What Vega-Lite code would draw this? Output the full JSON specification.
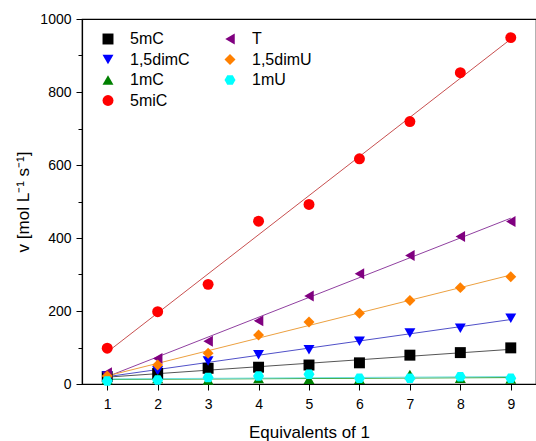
{
  "$schema": "https://vega.github.io/schema/vega-lite/v6.json",
  "width": 454,
  "height": 365,
  "autosize": "none",
  "padding": {"left": 82, "top": 19, "right": 0, "bottom": 57},
  "background": "white",
  "config": {
    "view": {"stroke": "black", "strokeWidth": 1.2},
    "font": "Liberation Sans",
    "axis": {
      "grid": false,
      "domainColor": "black",
      "domainWidth": 1.2,
      "tickColor": "black",
      "tickWidth": 1,
      "labelColor": "black",
      "titleColor": "black",
      "labelFont": "Liberation Sans",
      "titleFont": "Liberation Sans",
      "titleFontWeight": "normal",
      "labelFontSize": 14,
      "titleFontSize": 17
    },
    "legend": {
      "labelFont": "Liberation Sans",
      "labelFontSize": 16,
      "labelColor": "black"
    }
  },
  "data": {
    "values": [
      {"series": "5mC", "eq": 1, "v": 20}, {"series": "5mC", "eq": 2, "v": 29}, {"series": "5mC", "eq": 3, "v": 43},
      {"series": "5mC", "eq": 4, "v": 46}, {"series": "5mC", "eq": 5, "v": 52}, {"series": "5mC", "eq": 6, "v": 58},
      {"series": "5mC", "eq": 7, "v": 79}, {"series": "5mC", "eq": 8, "v": 86}, {"series": "5mC", "eq": 9, "v": 99},
      {"series": "1,5dimC", "eq": 1, "v": 22}, {"series": "1,5dimC", "eq": 2, "v": 36}, {"series": "1,5dimC", "eq": 3, "v": 63},
      {"series": "1,5dimC", "eq": 4, "v": 80}, {"series": "1,5dimC", "eq": 5, "v": 94}, {"series": "1,5dimC", "eq": 6, "v": 117},
      {"series": "1,5dimC", "eq": 7, "v": 140}, {"series": "1,5dimC", "eq": 8, "v": 153}, {"series": "1,5dimC", "eq": 9, "v": 180},
      {"series": "1mC", "eq": 1, "v": 12}, {"series": "1mC", "eq": 2, "v": 15}, {"series": "1mC", "eq": 3, "v": 11},
      {"series": "1mC", "eq": 4, "v": 15}, {"series": "1mC", "eq": 5, "v": 13}, {"series": "1mC", "eq": 6, "v": 13},
      {"series": "1mC", "eq": 7, "v": 26}, {"series": "1mC", "eq": 8, "v": 16}, {"series": "1mC", "eq": 9, "v": 14},
      {"series": "5miC", "eq": 1, "v": 98}, {"series": "5miC", "eq": 2, "v": 198}, {"series": "5miC", "eq": 3, "v": 273},
      {"series": "5miC", "eq": 4, "v": 446}, {"series": "5miC", "eq": 5, "v": 492}, {"series": "5miC", "eq": 6, "v": 617},
      {"series": "5miC", "eq": 7, "v": 719}, {"series": "5miC", "eq": 8, "v": 853}, {"series": "5miC", "eq": 9, "v": 949},
      {"series": "T", "eq": 1, "v": 31}, {"series": "T", "eq": 2, "v": 70}, {"series": "T", "eq": 3, "v": 117},
      {"series": "T", "eq": 4, "v": 173}, {"series": "T", "eq": 5, "v": 241}, {"series": "T", "eq": 6, "v": 302},
      {"series": "T", "eq": 7, "v": 352}, {"series": "T", "eq": 8, "v": 404}, {"series": "T", "eq": 9, "v": 445},
      {"series": "1,5dimU", "eq": 1, "v": 22}, {"series": "1,5dimU", "eq": 2, "v": 52}, {"series": "1,5dimU", "eq": 3, "v": 84},
      {"series": "1,5dimU", "eq": 4, "v": 134}, {"series": "1,5dimU", "eq": 5, "v": 170}, {"series": "1,5dimU", "eq": 6, "v": 194},
      {"series": "1,5dimU", "eq": 7, "v": 229}, {"series": "1,5dimU", "eq": 8, "v": 264}, {"series": "1,5dimU", "eq": 9, "v": 294},
      {"series": "1mU", "eq": 1, "v": 8}, {"series": "1mU", "eq": 2, "v": 11}, {"series": "1mU", "eq": 3, "v": 18},
      {"series": "1mU", "eq": 4, "v": 22}, {"series": "1mU", "eq": 5, "v": 27}, {"series": "1mU", "eq": 6, "v": 16},
      {"series": "1mU", "eq": 7, "v": 16}, {"series": "1mU", "eq": 8, "v": 20}, {"series": "1mU", "eq": 9, "v": 16}
    ]
  },
  "encoding": {
    "x": {"field": "eq", "type": "quantitative", "scale": {"domain": [0.5, 9.5], "nice": false},
          "axis": {"title": "Equivalents of 1", "values": [1,2,3,4,5,6,7,8,9], "tickSize": 6, "labelPadding": 7, "titlePadding": 13}},
    "y": {"field": "v", "type": "quantitative", "scale": {"domain": [0, 1000], "nice": false},
          "axis": {"title": "v [mol L⁻¹ s⁻¹]", "values": [0, 100, 200, 300, 400, 500, 600, 700, 800, 900, 1000],
                   "labelExpr": "datum.value % 200 === 0 ? format(datum.value, 'd') : ''",
                   "tickSize": {"condition": {"test": "datum.value % 200 === 0", "value": 6}, "value": 4},
                   "labelPadding": 5, "titlePadding": 7}}
  },
  "layer": [
    {"transform": [{"filter": "datum.series === '5mC'"}, {"regression": "v", "on": "eq", "extent": [1, 9]}],
     "mark": {"type": "line", "strokeWidth": 1, "color": "#555555"}, "encoding": {}},
    {"transform": [{"filter": "datum.series === '1,5dimC'"}, {"regression": "v", "on": "eq", "extent": [1, 9]}],
     "mark": {"type": "line", "strokeWidth": 1, "color": "#5050c8"}, "encoding": {}},
    {"transform": [{"filter": "datum.series === '1mC'"}, {"regression": "v", "on": "eq", "extent": [1, 9]}],
     "mark": {"type": "line", "strokeWidth": 1, "color": "#30a030"}, "encoding": {}},
    {"transform": [{"filter": "datum.series === '5miC'"}, {"regression": "v", "on": "eq", "extent": [1, 9]}],
     "mark": {"type": "line", "strokeWidth": 1, "color": "#c85050"}, "encoding": {}},
    {"transform": [{"filter": "datum.series === 'T'"}, {"regression": "v", "on": "eq", "extent": [1, 9]}],
     "mark": {"type": "line", "strokeWidth": 1, "color": "#9040a0"}, "encoding": {}},
    {"transform": [{"filter": "datum.series === '1,5dimU'"}, {"regression": "v", "on": "eq", "extent": [1, 9]}],
     "mark": {"type": "line", "strokeWidth": 1, "color": "#eca040"}, "encoding": {}},
    {"transform": [{"filter": "datum.series === '1mU'"}, {"regression": "v", "on": "eq", "extent": [1, 9]}],
     "mark": {"type": "line", "strokeWidth": 1, "color": "#70e0e0"}, "encoding": {}},
    {
      "mark": {"type": "point", "filled": true, "opacity": 1, "size": 120, "strokeWidth": 0},
      "encoding": {
        "color": {"field": "series", "type": "nominal",
          "scale": {"domain": ["5mC", "1,5dimC", "1mC", "5miC", "T", "1,5dimU", "1mU"],
                    "range": ["#000000", "#0000ff", "#008000", "#ff0000", "#800080", "#ff8000", "#00ffff"]},
          "legend": {"title": null, "orient": "none", "legendX": 18, "legendY": 12, "columns": 2, "columnPadding": 32, "rowPadding": 4.5, "symbolSize": 120, "labelOffset": 14}},
        "shape": {"field": "series", "type": "nominal",
          "scale": {"domain": ["5mC", "1,5dimC", "1mC", "5miC", "T", "1,5dimU", "1mU"],
                    "range": ["square", "triangle-down", "triangle-up", "circle", "triangle-left", "diamond", "M-1,0L-0.5,-0.866L0.5,-0.866L1,0L0.5,0.866L-0.5,0.866Z"]}}
      }
    }
  ]
}
